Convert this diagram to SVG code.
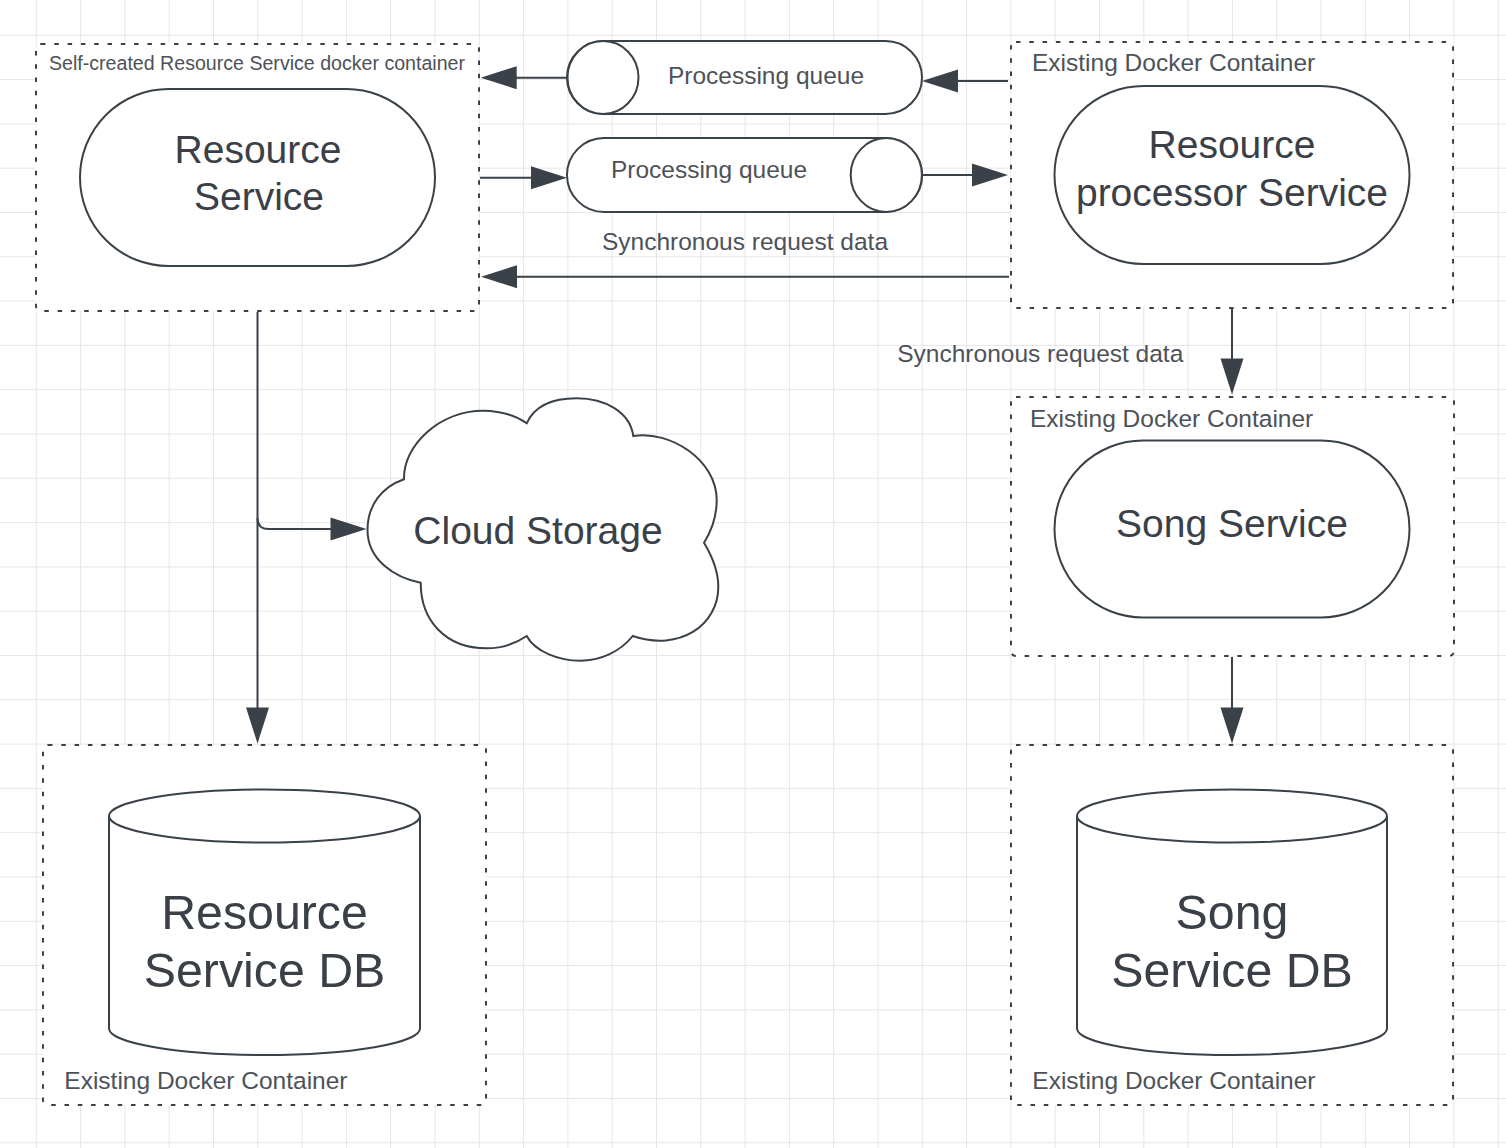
<svg xmlns="http://www.w3.org/2000/svg" width="1506" height="1148" viewBox="0 0 1506 1148">
<style>
.grid{stroke:#e6e6e6;stroke-width:1;fill:none}
.box{fill:#fff;stroke:#3a4149;stroke-width:2;stroke-dasharray:4.5 8.8}
.shape{fill:#fff;stroke:#3a4149;stroke-width:2}
.conn{fill:none;stroke:#3a4149;stroke-width:2}
text{font-family:"Liberation Sans",Arial,sans-serif;fill:#3b4048}
.lbl{font-size:24.5px;fill:#4d5259}
.small{font-size:19.6px;fill:#4d5259}
.big{font-size:39px;text-anchor:middle}
.db{font-size:48.3px;text-anchor:middle}
.mid{text-anchor:middle}
</style>
<defs>
<marker id="ah" markerUnits="userSpaceOnUse" markerWidth="37" markerHeight="24" refX="1" refY="11.5" orient="auto" overflow="visible">
<path d="M0,0 L36,11.5 L0,23 Z" fill="#3a4149"/>
</marker>
</defs>
<rect width="1506" height="1148" fill="#fff"/>
<path class="grid" d="M36.3 0V1148M80.6 0V1148M124.9 0V1148M169.2 0V1148M213.5 0V1148M257.8 0V1148M302.1 0V1148M346.4 0V1148M390.7 0V1148M435 0V1148M479.3 0V1148M523.6 0V1148M567.9 0V1148M612.2 0V1148M656.5 0V1148M700.8 0V1148M745.1 0V1148M789.4 0V1148M833.7 0V1148M878 0V1148M922.3 0V1148M966.6 0V1148M1010.9 0V1148M1055.2 0V1148M1099.5 0V1148M1143.8 0V1148M1188.1 0V1148M1232.4 0V1148M1276.7 0V1148M1321 0V1148M1365.3 0V1148M1409.6 0V1148M1453.9 0V1148M1498.2 0V1148M0 35.3H1506M0 79.6H1506M0 123.9H1506M0 168.2H1506M0 212.5H1506M0 256.8H1506M0 301.1H1506M0 345.4H1506M0 389.7H1506M0 434H1506M0 478.3H1506M0 522.6H1506M0 566.9H1506M0 611.2H1506M0 655.5H1506M0 699.8H1506M0 744.1H1506M0 788.4H1506M0 832.7H1506M0 877H1506M0 921.3H1506M0 965.6H1506M0 1009.9H1506M0 1054.2H1506M0 1098.5H1506M0 1142.8H1506"/>

<g id="container-resource-service">
<rect class="box" x="36" y="44" width="443" height="267" rx="5"/>
<text class="small" x="49" y="70">Self-created Resource Service docker container</text>
</g>
<g id="container-resource-processor">
<rect class="box" x="1011" y="42" width="442" height="266" rx="5"/>
<text class="lbl" x="1032" y="70.7">Existing Docker Container</text>
</g>
<g id="container-song-service">
<rect class="box" x="1011" y="397" width="443" height="259" rx="5"/>
<text class="lbl" x="1030" y="427.3">Existing Docker Container</text>
</g>
<g id="container-resource-db">
<rect class="box" x="43" y="745" width="443" height="360" rx="5"/>
<text class="lbl" x="64.3" y="1089.3">Existing Docker Container</text>
</g>
<g id="container-song-db">
<rect class="box" x="1011" y="745" width="442" height="360" rx="5"/>
<text class="lbl" x="1032.3" y="1089.3">Existing Docker Container</text>
</g>

<g id="resource-service">
<rect class="shape" x="80" y="89" width="355" height="177" rx="88.5"/>
<text class="big" x="258" y="162.5">Resource</text>
<text class="big" x="259" y="209.5">Service</text>
</g>
<g id="resource-processor-service">
<rect class="shape" x="1054.5" y="86" width="355" height="178" rx="89"/>
<text class="big" x="1232" y="158.3">Resource</text>
<text class="big" x="1232" y="205.7">processor Service</text>
</g>
<g id="song-service">
<rect class="shape" x="1054.5" y="440.5" width="355" height="177" rx="88.5"/>
<text class="big" x="1232" y="537">Song Service</text>
</g>
<g id="queue-top">
<rect class="shape" x="567" y="41" width="355" height="73" rx="36.5"/>
<ellipse class="shape" cx="603" cy="77.5" rx="35.5" ry="36.5"/>
<text class="lbl mid" x="766" y="84.3">Processing queue</text>
</g>
<g id="queue-bottom">
<rect class="shape" x="567" y="138" width="355" height="74" rx="37"/>
<ellipse class="shape" cx="886.3" cy="175" rx="35.6" ry="37"/>
<text class="lbl mid" x="709" y="177.7">Processing queue</text>
</g>
<g id="cloud-storage">
<path class="shape" d="M420.7 582.7 C395 578 367.5 560 367.5 530 C367.5 505 382 487 404 479.3 C403 445 440 410.7 483.3 410.7 C500 411 515 415 526.7 423.3 C535 405 555 398.3 576.7 398.3 C605 398.3 630 412 633.3 436 C670 430 716.7 460 716.7 500 C716.7 515 712 530 704 542.7 C712 556 718.3 570 718.3 586.7 C718.3 625 680 652 632.7 636 C620 652 600 660.7 580 660.7 C560 660.7 535 652 526.7 636 C515 644 500 648.3 486.7 648.3 C445 648.3 420.7 620 420.7 582.7 Z"/>
<text class="big" x="538" y="544">Cloud Storage</text>
</g>
<g id="resource-service-db">
<path class="shape" d="M109 816 A155.5 26.5 0 0 1 420 816 V1028.5 A155.5 26.5 0 0 1 109 1028.5 Z"/>
<path class="shape" fill="none" d="M109 816 A155.5 26.5 0 0 0 420 816"/>
<text class="db" x="264.5" y="929">Resource</text>
<text class="db" x="264.5" y="987.3">Service DB</text>
</g>
<g id="song-service-db">
<path class="shape" d="M1077 816 A155 26.5 0 0 1 1387 816 V1028.5 A155 26.5 0 0 1 1077 1028.5 Z"/>
<path class="shape" fill="none" d="M1077 816 A155 26.5 0 0 0 1387 816"/>
<text class="db" x="1232" y="928.5">Song</text>
<text class="db" x="1232" y="987.3">Service DB</text>
</g>

<g id="connectors">
<path class="conn" marker-end="url(#ah)" d="M1008 81 H957"/>
<path class="conn" marker-end="url(#ah)" d="M567 77.7 H515.7"/>
<path class="conn" marker-end="url(#ah)" d="M480 177.7 H532"/>
<path class="conn" marker-end="url(#ah)" d="M922 175 H973"/>
<path class="conn" marker-end="url(#ah)" d="M1009 276.7 H516"/>
<path class="conn" marker-end="url(#ah)" d="M1232 309 V359.5"/>
<path class="conn" marker-end="url(#ah)" d="M1232 657 V708.5"/>
<path class="conn" marker-end="url(#ah)" d="M257.5 312 V708.5"/>
<path class="conn" marker-end="url(#ah)" d="M257.5 518 Q257.5 529 268.5 529 H331.5"/>
<text class="lbl mid" x="745" y="250">Synchronous request data</text>
<text class="lbl mid" x="1040.3" y="362.3">Synchronous request data</text>
</g>
</svg>
